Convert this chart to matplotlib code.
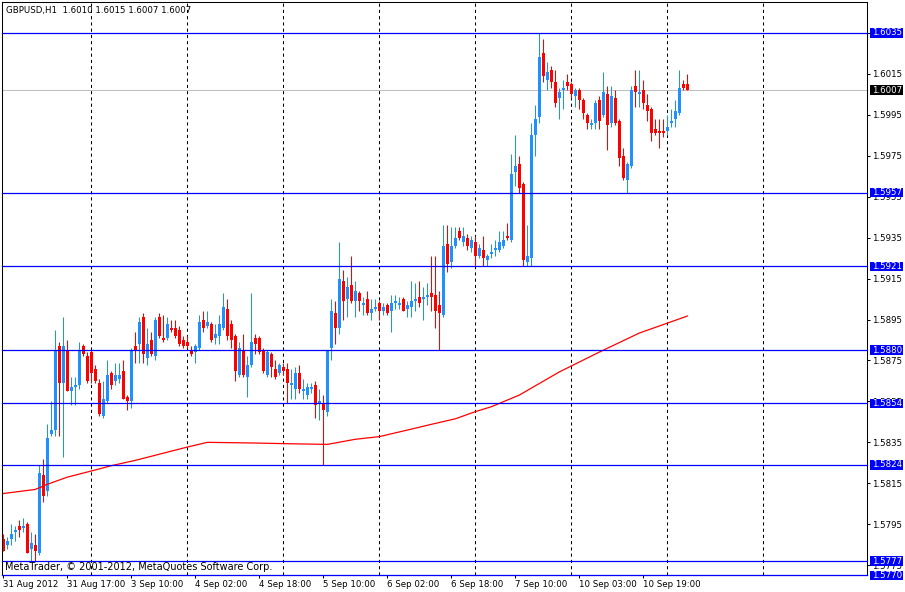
import numpy as np
import matplotlib
matplotlib.use('Agg')
import matplotlib.pyplot as plt
import matplotlib.transforms as mtransforms
from matplotlib.patches import Rectangle

# GBPUSD H1 bars (open / high / low / close)
opens = [1.5788, 1.5785, 1.5788, 1.5791, 1.5794, 1.5793, 1.5795, 1.5783, 1.5785, 1.5781,
         1.5819, 1.5811, 1.5839, 1.5841, 1.5882, 1.5864, 1.5880, 1.5860, 1.5862, 1.5863,
         1.5882, 1.5877, 1.5879, 1.5871, 1.5864, 1.5848, 1.5855, 1.5869, 1.5865, 1.5866,
         1.5870, 1.5857, 1.5855, 1.5882, 1.5883, 1.5896, 1.5876, 1.5885, 1.5877, 1.5896,
         1.5886, 1.5886, 1.5891, 1.5891, 1.5890, 1.5885, 1.5884, 1.5880, 1.5879, 1.5881,
         1.5895, 1.5892, 1.5893, 1.5886, 1.5887, 1.5891, 1.5900, 1.5893, 1.5887, 1.5868,
         1.5880, 1.5867, 1.5873, 1.5886, 1.5886, 1.5880, 1.5868, 1.5878, 1.5871, 1.5869,
         1.5872, 1.5871, 1.5863, 1.5861, 1.5869, 1.5860, 1.5858, 1.5861, 1.5863, 1.5854,
         1.5854, 1.5850, 1.5881, 1.5898, 1.5891, 1.5914, 1.5905, 1.5912, 1.5904, 1.5908,
         1.5902, 1.5905, 1.5898, 1.5900, 1.5903, 1.5899, 1.5902, 1.5899, 1.5903, 1.5902,
         1.5905, 1.5900, 1.5901, 1.5904, 1.5906, 1.5905, 1.5906, 1.5908, 1.5907, 1.5902,
         1.5897, 1.5932, 1.5923, 1.5931, 1.5938, 1.5933, 1.5935, 1.5930, 1.5933, 1.5926,
         1.5929, 1.5924, 1.5927, 1.5929, 1.5929, 1.5931, 1.5936, 1.5934, 1.5967, 1.5971,
         1.5961, 1.5923, 1.5925, 1.5985, 1.5994, 1.6025, 1.6012, 1.6017, 1.6011, 1.6003,
         1.6007, 1.6011, 1.6010, 1.6004, 1.6007, 1.6002, 1.5995, 1.5990, 1.5991, 1.6002,
         1.5995, 1.6005, 1.5991, 1.6003, 1.5992, 1.5975, 1.5963, 1.5970, 1.6009, 1.6005,
         1.6007, 1.6000, 1.5998, 1.5988, 1.5987, 1.5987, 1.5987, 1.5991, 1.5993, 1.5996,
         1.6010, 1.6010]
highs = [1.5790, 1.5789, 1.5795, 1.5794, 1.5797, 1.5798, 1.5796, 1.5791, 1.5790, 1.5824,
         1.5827, 1.5844, 1.5855, 1.5890, 1.5884, 1.5896, 1.5885, 1.5867, 1.5867, 1.5884,
         1.5883, 1.5879, 1.5880, 1.5873, 1.5866, 1.5865, 1.5875, 1.5870, 1.5874, 1.5874,
         1.5875, 1.5858, 1.5881, 1.5889, 1.5896, 1.5898, 1.5891, 1.5889, 1.5896, 1.5898,
         1.5897, 1.5896, 1.5895, 1.5895, 1.5892, 1.5887, 1.5887, 1.5882, 1.5883, 1.5897,
         1.5899, 1.5899, 1.5894, 1.5893, 1.5897, 1.5908, 1.5905, 1.5895, 1.5888, 1.5884,
         1.5888, 1.5877, 1.5908, 1.5888, 1.5887, 1.5881, 1.5880, 1.5879, 1.5875, 1.5874,
         1.5874, 1.5874, 1.5871, 1.5872, 1.5873, 1.5866, 1.5864, 1.5864, 1.5865, 1.5861,
         1.5858, 1.5880, 1.5905, 1.5904, 1.5933, 1.5919, 1.5916, 1.5926, 1.5914, 1.5909,
         1.5906, 1.5909, 1.5905, 1.5905, 1.5904, 1.5903, 1.5903, 1.5907, 1.5907, 1.5906,
         1.5906, 1.5904, 1.5914, 1.5913, 1.5914, 1.5911, 1.5913, 1.5926, 1.5926, 1.5909,
         1.5941, 1.5941, 1.5940, 1.5940, 1.5940, 1.5940, 1.5937, 1.5936, 1.5936, 1.5932,
         1.5936, 1.5927, 1.5932, 1.5934, 1.5938, 1.5938, 1.5942, 1.5976, 1.5985, 1.5975,
         1.5962, 1.5941, 1.5991, 1.6000, 1.6035, 1.6032, 1.6021, 1.6019, 1.6017, 1.6008,
         1.6012, 1.6015, 1.6011, 1.6008, 1.6008, 1.6003, 1.5996, 1.5993, 1.6002, 1.6004,
         1.6016, 1.6009, 1.6009, 1.6007, 1.5993, 1.5979, 1.5972, 1.6009, 1.6017, 1.6017,
         1.6012, 1.6005, 1.5999, 1.5993, 1.5993, 1.5993, 1.5995, 1.5998, 1.6002, 1.6017,
         1.6012, 1.6015]
lows = [1.5782, 1.5783, 1.5785, 1.5787, 1.5789, 1.5791, 1.5781, 1.5777, 1.5777, 1.5780,
        1.5806, 1.5809, 1.5838, 1.5838, 1.5838, 1.5828, 1.5860, 1.5853, 1.5853, 1.5861,
        1.5877, 1.5864, 1.5864, 1.5864, 1.5848, 1.5847, 1.5854, 1.5861, 1.5863, 1.5864,
        1.5856, 1.5851, 1.5852, 1.5874, 1.5874, 1.5874, 1.5873, 1.5877, 1.5875, 1.5886,
        1.5884, 1.5885, 1.5889, 1.5886, 1.5882, 1.5881, 1.5881, 1.5877, 1.5874, 1.5880,
        1.5889, 1.5891, 1.5884, 1.5883, 1.5883, 1.5890, 1.5885, 1.5881, 1.5865, 1.5867,
        1.5867, 1.5857, 1.5872, 1.5878, 1.5878, 1.5869, 1.5867, 1.5867, 1.5866, 1.5868,
        1.5868, 1.5854, 1.5856, 1.5856, 1.5859, 1.5856, 1.5856, 1.5859, 1.5847, 1.5846,
        1.5824, 1.5848, 1.5875, 1.5883, 1.5888, 1.5895, 1.5896, 1.5903, 1.5896, 1.5899,
        1.5897, 1.5897, 1.5895, 1.5899, 1.5895, 1.5897, 1.5897, 1.5889, 1.5900, 1.5900,
        1.5899, 1.5896, 1.5896, 1.5899, 1.5901, 1.5895, 1.5902, 1.5899, 1.5891, 1.5880,
        1.5896, 1.5918, 1.5920, 1.5930, 1.5934, 1.5931, 1.5929, 1.5928, 1.5921, 1.5925,
        1.5921, 1.5921, 1.5925, 1.5926, 1.5928, 1.5930, 1.5934, 1.5933, 1.5960, 1.5957,
        1.5921, 1.5921, 1.5921, 1.5975, 1.5991, 1.6011, 1.6007, 1.6008, 1.5999, 1.5993,
        1.5998, 1.6007, 1.6003, 1.5999, 1.5998, 1.5993, 1.5988, 1.5988, 1.5988, 1.5988,
        1.5994, 1.5978, 1.5989, 1.5990, 1.5970, 1.5963, 1.5957, 1.5969, 1.5999, 1.5999,
        1.5998, 1.5992, 1.5982, 1.5985, 1.5979, 1.5984, 1.5985, 1.5989, 1.5989, 1.5995,
        1.6007, 1.6007]
closes = [1.5782, 1.5787, 1.5790, 1.5792, 1.5792, 1.5794, 1.5781, 1.5786, 1.5782, 1.5820,
          1.5809, 1.5837, 1.5841, 1.5880, 1.5864, 1.5882, 1.5860, 1.5862, 1.5863, 1.5880,
          1.5878, 1.5865, 1.5869, 1.5865, 1.5849, 1.5856, 1.5868, 1.5863, 1.5868, 1.5868,
          1.5856, 1.5855, 1.5880, 1.5880, 1.5894, 1.5878, 1.5883, 1.5878, 1.5895, 1.5887,
          1.5885, 1.5893, 1.5890, 1.5887, 1.5883, 1.5882, 1.5882, 1.5878, 1.5882, 1.5894,
          1.5891, 1.5894, 1.5885, 1.5888, 1.5893, 1.5901, 1.5887, 1.5885, 1.5870, 1.5881,
          1.5868, 1.5873, 1.5884, 1.5883, 1.5879, 1.5870, 1.5879, 1.5872, 1.5867, 1.5873,
          1.5870, 1.5864, 1.5864, 1.5869, 1.5861, 1.5861, 1.5862, 1.5862, 1.5853, 1.5855,
          1.5851, 1.5880, 1.5899, 1.5891, 1.5915, 1.5904, 1.5911, 1.5904, 1.5909, 1.5904,
          1.5903, 1.5898, 1.5900, 1.5901, 1.5899, 1.5901, 1.5898, 1.5903, 1.5904, 1.5903,
          1.5899, 1.5902, 1.5904, 1.5905, 1.5903, 1.5906, 1.5907, 1.5906, 1.5899, 1.5898,
          1.5931, 1.5922, 1.5931, 1.5935, 1.5935, 1.5936, 1.5931, 1.5934, 1.5926, 1.5930,
          1.5925, 1.5926, 1.5928, 1.5930, 1.5933, 1.5934, 1.5935, 1.5966, 1.5970, 1.5959,
          1.5924, 1.5926, 1.5985, 1.5993, 1.6023, 1.6014, 1.6016, 1.6011, 1.6001, 1.6006,
          1.6008, 1.6009, 1.6005, 1.6007, 1.6002, 1.5996, 1.5991, 1.5991, 1.6001, 1.5992,
          1.6006, 1.5990, 1.6004, 1.5991, 1.5974, 1.5964, 1.5971, 1.6007, 1.6006, 1.6006,
          1.6001, 1.5997, 1.5986, 1.5986, 1.5986, 1.5986, 1.5989, 1.5992, 1.5997, 1.6008,
          1.6008, 1.6007]

# moving average (red line), read at some bars
ma_bars = [0, 8, 11, 16, 22, 27, 33, 46, 51, 62, 72, 81, 88, 94, 101, 107, 113, 118,
           122, 129, 139, 149, 159, 171]
ma_vals = [1.5810, 1.5812, 1.58145, 1.5818, 1.5821, 1.58236, 1.58262, 1.58327, 1.5835,
           1.58347, 1.58343, 1.5834, 1.58365, 1.58378, 1.5841, 1.58438, 1.58465, 1.5850,
           1.58524, 1.58581, 1.58694, 1.58791, 1.58884, 1.58967]

# horizontal lines + bid
levels = [1.6035, 1.5957, 1.5921, 1.5880, 1.5854, 1.5824, 1.5777, 1.5770]
bid = 1.6007

time_pos = [0, 16, 32, 48, 64, 80, 96, 112, 128, 144, 160]
time_labels = ['31 Aug 2012', '31 Aug 17:00', '3 Sep 10:00', '4 Sep 02:00', '4 Sep 18:00',
               '5 Sep 10:00', '6 Sep 02:00', '6 Sep 18:00', '7 Sep 10:00', '10 Sep 03:00',
               '10 Sep 19:00']
price_ticks = [1.5775, 1.5795, 1.5815, 1.5835, 1.5855, 1.5875, 1.5895, 1.5915, 1.5935,
               1.5955, 1.5975, 1.5995, 1.6015, 1.6035]

plt.rcParams['font.family'] = ['DejaVu Sans']
FS = 6.2

fig = plt.figure(figsize=(9.05, 5.92), dpi=100)
ax = fig.add_axes([2 / 905, 17 / 592, 865 / 905, 573 / 592])
ax.set_xlim(-0.325, 215.9)
ax.set_ylim(1.57702, 1.60501)

o = np.array(opens)
h = np.array(highs)
l = np.array(lows)
c = np.array(closes)
x = np.arange(len(o))
cols = np.where(c >= o, '#1E90FF', '#FF0000')

# grid (every 24 bars)
for g in np.arange(21.9, 195, 24):
    ax.axvline(g, color='black', lw=0.75, ls=(0, (3, 3)), zorder=0.5)

ax.axhline(bid, color='#C0C0C0', lw=0.75, zorder=0.8)

ax.vlines(x, l, h, colors=cols, lw=0.75, zorder=2)
ax.bar(x, np.abs(c - o), bottom=np.minimum(o, c), width=0.75, color=cols, lw=0, zorder=2)

ax.plot(ma_bars, ma_vals, color='#FF0000', lw=0.9, zorder=2.5)

for lv in levels:
    ax.axhline(lv, color='#0000FF', lw=0.9, zorder=3, clip_on=False)

# axes look
for s in ax.spines.values():
    s.set_linewidth(0.75)
    s.set_color('black')
ax.yaxis.tick_right()
ax.set_yticks(price_ticks)
ax.set_yticklabels(['%.4f' % p for p in price_ticks])
ax.set_xticks(time_pos)
ax.set_xticklabels(time_labels, ha='left')
ax.tick_params(axis='both', labelsize=FS, length=2.2, width=0.75, pad=1.5, colors='black')

# price boxes
tr = mtransforms.blended_transform_factory(ax.transAxes, ax.transData)
bh = 9.5 / 20467
bw = 33 / 865
for lv, fc in [(v, '#0000FF') for v in levels] + [(bid, 'black')]:
    ax.add_patch(Rectangle((1 + 3 / 865, lv - bh / 2), bw, bh, transform=tr, fc=fc,
                           ec='none', clip_on=False, zorder=5))
    ax.text(1 + 5 / 865, lv, '%.4f' % lv, transform=tr, color='white', fontsize=FS,
            va='center', ha='left', clip_on=False, zorder=6)

fig.text(6 / 905, 1 - 10 / 592, 'GBPUSD,H1  1.6010 1.6015 1.6007 1.6007', fontsize=FS,
         va='center', ha='left')
fig.text(5 / 905, 1 - 567 / 592, 'MetaTrader, \u00a9 2001-2012, MetaQuotes Software Corp.',
         fontsize=7, va='center', ha='left')

fig.savefig('out.png', dpi=100, facecolor='white')
